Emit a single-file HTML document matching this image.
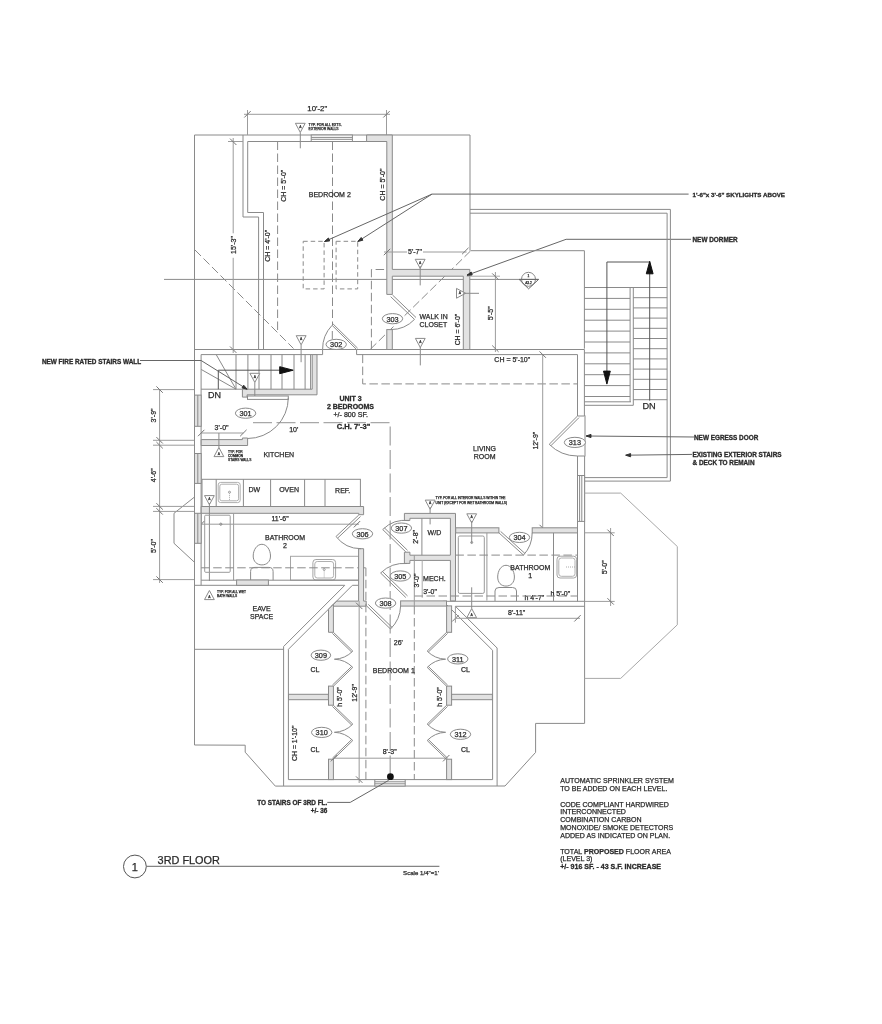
<!DOCTYPE html>
<html><head><meta charset="utf-8"><style>
html,body{margin:0;padding:0;background:#fff;}
svg{display:block;will-change:transform;filter:blur(0.35px);}
text{font-family:"Liberation Sans",sans-serif;stroke:#2a2a2a;stroke-width:0.25px;}
text.b{stroke-width:0.3px;}
</style></head><body>
<svg width="882" height="1024" viewBox="0 0 882 1024">
<rect width="882" height="1024" fill="#fff"/>
<g fill="none" stroke="#8a8a8a" stroke-width="1.0">
<line x1="194.5" y1="135" x2="470" y2="135"/>
<line x1="194.5" y1="135" x2="194.5" y2="745"/>
<line x1="470" y1="135" x2="470" y2="250.7"/>
<polyline points="194.5,745 245.2,745.2 245.2,752.2 275.3,786.1 505,786 535.6,752.4 535.6,723.4 584.6,723.4 584.6,481"/>
<line x1="164" y1="279.4" x2="538.6" y2="279.4"/>
<line x1="195" y1="250" x2="293.5" y2="348.5" stroke-dasharray="8.5,3.5"/>
<line x1="370.3" y1="349.3" x2="471" y2="250.5" stroke-dasharray="8.5,3.5"/>
<line x1="244" y1="114.3" x2="390" y2="114.3" stroke="#9c9c9c"/>
<line x1="247.5" y1="110" x2="247.5" y2="135" stroke="#9c9c9c"/>
<line x1="386.5" y1="110" x2="386.5" y2="135" stroke="#9c9c9c"/>
<line x1="244.3" y1="117.5" x2="250.7" y2="111.1" stroke="#777"/>
<line x1="383.3" y1="117.5" x2="389.7" y2="111.1" stroke="#777"/>
<text x="317.3" y="108.8" font-size="7.8" text-anchor="middle" dominant-baseline="central" fill="#2a2a2a">10'-2"</text>
<polyline points="243,135 243,217 258.6,217 258.6,349.5"/>
<polyline points="247.7,141.5 247.7,212.5 263.5,212.5 263.5,349.5"/>
<line x1="247.7" y1="141.5" x2="387" y2="141.5"/>
<rect x="311.2" y="135" width="41.2" height="6.5" fill="#fff"/>
<line x1="311.2" y1="137.4" x2="352.4" y2="137.4"/>
<line x1="311.2" y1="139.3" x2="352.4" y2="139.3"/>
<polygon points="366.6,135 392.3,135 392.3,269.4 469.8,269.4 469.8,349.5 463.3,349.5 463.3,276.2 392.3,276.2 392.3,294.4 386.8,294.4 386.8,141.5 366.6,141.5" fill="#e2e2e2"/>
<rect x="386.8" y="329.6" width="5.5" height="19.9" fill="#e2e2e2"/>
<polygon points="295.4,123.3 305.2,123.3 300.3,132.4" fill="#fff"/>
<text x="300.3" y="126.6" font-size="3.4" text-anchor="middle" dominant-baseline="central" fill="#2a2a2a">A</text>
<line x1="300.3" y1="132.4" x2="300.3" y2="148.3"/>
<text x="308.6" y="124.6" font-size="3.45" text-anchor="start" dominant-baseline="central" fill="#2a2a2a">TYP. FOR ALL EXTS.</text>
<text x="308.6" y="129" font-size="3.45" text-anchor="start" dominant-baseline="central" fill="#2a2a2a">EXTERIOR WALLS</text>
<line x1="277.6" y1="141.5" x2="277.6" y2="331.5" stroke-dasharray="8.5,3.5"/>
<line x1="332.5" y1="141.5" x2="332.5" y2="325" stroke-dasharray="8.5,3.5"/>
<text x="283.3" y="185.7" font-size="7.0" text-anchor="middle" dominant-baseline="central" transform="rotate(-90 283.3 185.7)" fill="#2a2a2a">CH = 5'-0"</text>
<text x="329.8" y="194.8" font-size="7.0" text-anchor="middle" dominant-baseline="central" fill="#2a2a2a">BEDROOM 2</text>
<text x="382.4" y="184.6" font-size="7.0" text-anchor="middle" dominant-baseline="central" transform="rotate(-90 382.4 184.6)" fill="#2a2a2a">CH = 5'-0"</text>
<text x="267.4" y="245.8" font-size="7.0" text-anchor="middle" dominant-baseline="central" transform="rotate(-90 267.4 245.8)" fill="#2a2a2a">CH = 4'-0"</text>
<rect x="303.2" y="241.3" width="20.9" height="47.6" stroke-dasharray="4.5,3"/>
<rect x="336.1" y="241.3" width="21.6" height="47.6" stroke-dasharray="4.5,3"/>
<line x1="432" y1="194.1" x2="688.6" y2="194.1" stroke="#666"/>
<line x1="432" y1="194.1" x2="324.5" y2="241.5" stroke="#666"/>
<line x1="432" y1="194.1" x2="357.8" y2="241.5" stroke="#666"/>
<polygon points="324.5,241.5 328.4,238 329.7,240.9" stroke="#333" fill="#333"/>
<polygon points="357.8,241.5 361.2,237.5 362.9,240.2" stroke="#333" fill="#333"/>
<line x1="233.2" y1="138" x2="233.2" y2="233.3" stroke="#9c9c9c"/>
<line x1="233.2" y1="257.8" x2="233.2" y2="353" stroke="#9c9c9c"/>
<line x1="228" y1="141.5" x2="243" y2="141.5" stroke="#9c9c9c"/>
<line x1="230" y1="138.6" x2="236.4" y2="145" stroke="#777"/>
<line x1="230" y1="346.5" x2="236.4" y2="352.9" stroke="#777"/>
<text x="233.2" y="245" font-size="7.0" text-anchor="middle" dominant-baseline="central" transform="rotate(-90 233.2 245)" fill="#2a2a2a">15'-3"</text>
<polyline points="390.7,296.7 414.5,319.4"/>
<polyline points="392.5,295 416,317.5"/>
<path d="M414.5,319.4 A32.9,32.9 0 0 1 390.7,329.6"/>
<polyline points="371.4,349.3 371.4,269.5 386.8,269.5" stroke-dasharray="8.5,3.5"/>
<ellipse cx="392.5" cy="318.7" rx="10.2" ry="5.1" fill="#fff"/>
<text x="392.5" y="319" font-size="7.3" text-anchor="middle" dominant-baseline="central" fill="#2a2a2a">303</text>
<text x="419.6" y="316.6" font-size="6.9" text-anchor="start" dominant-baseline="central" fill="#2a2a2a">WALK IN</text>
<text x="419.6" y="324.4" font-size="6.9" text-anchor="start" dominant-baseline="central" fill="#2a2a2a">CLOSET</text>
<text x="457.6" y="329.6" font-size="6.9" text-anchor="middle" dominant-baseline="central" transform="rotate(-90 457.6 329.6)" fill="#2a2a2a">CH = 6'-0"</text>
<polygon points="415.2,259.3 425.1,259.3 420.2,268.4" fill="#fff"/>
<text x="420.2" y="262.6" font-size="3.4" text-anchor="middle" dominant-baseline="central" fill="#2a2a2a">A</text>
<line x1="420.2" y1="266" x2="420.2" y2="285.4"/>
<polygon points="456.5,288.4 465.6,293.3 456.5,298.2" fill="#fff"/>
<text x="459.8" y="293.3" font-size="3.4" text-anchor="middle" dominant-baseline="central" fill="#2a2a2a">A</text>
<line x1="463" y1="293.3" x2="479" y2="293.3"/>
<polygon points="415.4,338.4 425.2,338.4 420.3,347.5" fill="#fff"/>
<text x="420.3" y="341.7" font-size="3.4" text-anchor="middle" dominant-baseline="central" fill="#2a2a2a">A</text>
<line x1="420.3" y1="347" x2="420.3" y2="365.4"/>
<line x1="384" y1="252" x2="407" y2="252" stroke="#9c9c9c"/>
<line x1="423" y1="252" x2="466.6" y2="252" stroke="#9c9c9c"/>
<line x1="383.8" y1="255.2" x2="390.2" y2="248.8" stroke="#777"/>
<line x1="462.1" y1="254.2" x2="468.5" y2="247.8" stroke="#777"/>
<text x="415" y="251.5" font-size="7.0" text-anchor="middle" dominant-baseline="central" fill="#2a2a2a">5'-7"</text>
<line x1="495.4" y1="272" x2="495.4" y2="352" stroke="#9c9c9c"/>
<line x1="466.6" y1="276.2" x2="500" y2="276.2" stroke="#aaa"/>
<line x1="492.2" y1="273.4" x2="498.6" y2="279.8" stroke="#777"/>
<line x1="492.2" y1="345.5" x2="498.6" y2="351.9" stroke="#777"/>
<text x="490.3" y="313.3" font-size="7.0" text-anchor="middle" dominant-baseline="central" transform="rotate(-90 490.3 313.3)" fill="#2a2a2a">5'-5"</text>
<polyline points="691,239.3 566.1,239.3 467,275.2" stroke="#666"/>
<polygon points="467,275.2 471.2,272 472.2,275" stroke="#333" fill="#333"/>
<polyline points="471,250.7 584.4,250.7 584.4,348.7"/>
<polyline points="470,209.4 670.4,209.4 670.4,481.1 584.8,481.1"/>
<polyline points="470,213.2 667.1,213.2 667.1,477.6 584.8,477.6"/>
<circle cx="528.5" cy="279.3" r="7"/>
<polygon points="519.1,279.4 538.6,279.4 528.6,288.8" stroke="#666"/>
<text x="528.5" y="276.3" font-size="3.2" text-anchor="middle" dominant-baseline="central" fill="#2a2a2a">1</text>
<text x="528.5" y="282.6" font-size="3.2" text-anchor="middle" dominant-baseline="central" fill="#2a2a2a">A3.2</text>
<line x1="584.4" y1="298.4" x2="630.1" y2="298.4"/>
<line x1="584.4" y1="309.3" x2="630.1" y2="309.3"/>
<line x1="584.4" y1="320.2" x2="630.1" y2="320.2"/>
<line x1="584.4" y1="331.1" x2="630.1" y2="331.1"/>
<line x1="584.4" y1="342" x2="630.1" y2="342"/>
<line x1="584.4" y1="352.9" x2="630.1" y2="352.9"/>
<line x1="584.4" y1="363.8" x2="630.1" y2="363.8"/>
<line x1="584.4" y1="374.7" x2="630.1" y2="374.7"/>
<line x1="584.4" y1="385.6" x2="630.1" y2="385.6"/>
<line x1="584.4" y1="396.5" x2="630.1" y2="396.5"/>
<line x1="584.4" y1="287.5" x2="667.1" y2="287.5"/>
<line x1="584.4" y1="401.8" x2="631" y2="401.8"/>
<line x1="584.4" y1="405.3" x2="633.3" y2="405.3"/>
<line x1="630.1" y1="287.5" x2="630.1" y2="401.8"/>
<line x1="633.3" y1="287.5" x2="633.3" y2="405.3"/>
<line x1="633.3" y1="297.7" x2="667.1" y2="297.7"/>
<line x1="633.3" y1="307.9" x2="667.1" y2="307.9"/>
<line x1="633.3" y1="318.1" x2="667.1" y2="318.1"/>
<line x1="633.3" y1="328.3" x2="667.1" y2="328.3"/>
<line x1="633.3" y1="338.5" x2="667.1" y2="338.5"/>
<line x1="633.3" y1="348.7" x2="667.1" y2="348.7"/>
<line x1="633.3" y1="358.9" x2="667.1" y2="358.9"/>
<line x1="633.3" y1="369.1" x2="667.1" y2="369.1"/>
<line x1="633.3" y1="379.3" x2="667.1" y2="379.3"/>
<line x1="633.3" y1="389.5" x2="667.1" y2="389.5"/>
<line x1="633.3" y1="399.7" x2="667.1" y2="399.7"/>
<polyline points="649.7,400.6 649.7,262 606.9,262 606.9,380" stroke="#555"/>
<polygon points="606.9,384.1 603.5,371.1 610.3,371.1" stroke="#111" fill="#111"/>
<polygon points="649.7,261.3 653.1,273.8 646.3,273.8" stroke="#111" fill="#111"/>
<text x="649.1" y="406" font-size="9.2" text-anchor="middle" dominant-baseline="central" fill="#2a2a2a">DN</text>
<text x="692.5" y="194.8" font-size="6.2" text-anchor="start" dominant-baseline="central" font-weight="bold" class="b" fill="#2a2a2a">1'-6"x 3'-6" SKYLIGHTS ABOVE</text>
<text x="692.5" y="239.7" font-size="6.4" text-anchor="start" dominant-baseline="central" font-weight="bold" class="b" fill="#2a2a2a">NEW DORMER</text>
<text x="694" y="437.2" font-size="6.4" text-anchor="start" dominant-baseline="central" font-weight="bold" class="b" fill="#2a2a2a">NEW EGRESS DOOR</text>
<text x="692.5" y="454.6" font-size="6.4" text-anchor="start" dominant-baseline="central" font-weight="bold" class="b" fill="#2a2a2a">EXISTING EXTERIOR STAIRS</text>
<text x="692.5" y="462.3" font-size="6.4" text-anchor="start" dominant-baseline="central" font-weight="bold" class="b" fill="#2a2a2a">&amp; DECK TO REMAIN</text>
<line x1="694" y1="437" x2="586.5" y2="436" stroke="#666"/>
<polygon points="586,436 591,434.4 591,437.6" stroke="#333" fill="#333"/>
<line x1="692" y1="454.4" x2="626" y2="455.2" stroke="#666"/>
<polygon points="625.6,455.2 630.6,453.6 630.6,456.8" stroke="#333" fill="#333"/>
<line x1="194.5" y1="349.5" x2="322.6" y2="349.5"/>
<line x1="201.1" y1="354.6" x2="322.6" y2="354.6"/>
<line x1="356.6" y1="349.5" x2="584.4" y2="349.5"/>
<line x1="356.6" y1="354.6" x2="577.5" y2="354.6"/>
<line x1="577.5" y1="354.6" x2="577.5" y2="416"/>
<line x1="584.4" y1="349.5" x2="584.4" y2="416"/>
<line x1="577.5" y1="456" x2="577.5" y2="601.4"/>
<line x1="584.6" y1="456" x2="584.6" y2="481"/>
<line x1="577.5" y1="416" x2="584.4" y2="416"/>
<line x1="577.5" y1="456" x2="584.6" y2="456"/>
<rect x="577.5" y="475.5" width="7.1" height="45.9" fill="#fff"/>
<line x1="579.6" y1="475.5" x2="579.6" y2="521.4"/>
<line x1="581.8" y1="475.5" x2="581.8" y2="521.4"/>
<polyline points="577.5,416 549.2,444.3"/>
<polyline points="579,417.6 550.8,445.8"/>
<path d="M549.2,444.3 A40,40 0 0 0 577.5,456"/>
<line x1="585" y1="415.4" x2="585" y2="456.4"/>
<ellipse cx="574.9" cy="442.4" rx="10.6" ry="5.1" fill="#fff"/>
<text x="574.9" y="442.7" font-size="7.3" text-anchor="middle" dominant-baseline="central" fill="#2a2a2a">313</text>
<polyline points="362.7,354.6 362.7,383.9 577.5,383.9" stroke-dasharray="8.5,3.5"/>
<line x1="542.7" y1="354.5" x2="542.7" y2="531" stroke="#9c9c9c"/>
<line x1="539.5" y1="351.4" x2="545.9" y2="357.8" stroke="#777"/>
<line x1="539.5" y1="524.8" x2="545.9" y2="531.2" stroke="#777"/>
<text x="535.6" y="440.6" font-size="7.0" text-anchor="middle" dominant-baseline="central" transform="rotate(-90 535.6 440.6)" fill="#2a2a2a">12'-9"</text>
<text x="512.3" y="359.5" font-size="7.0" text-anchor="middle" dominant-baseline="central" fill="#2a2a2a">CH = 5'-10"</text>
<text x="484.6" y="448.6" font-size="7.0" text-anchor="middle" dominant-baseline="central" fill="#2a2a2a">LIVING</text>
<text x="484.6" y="456.4" font-size="7.0" text-anchor="middle" dominant-baseline="central" fill="#2a2a2a">ROOM</text>
<polyline points="253,422.6 390.2,422.6 390.2,780" stroke-dasharray="19,4.5" stroke="#a8a8a8" stroke-width="1.3"/>
<text x="350.5" y="398.6" font-size="7.0" text-anchor="middle" dominant-baseline="central" font-weight="bold" class="b" fill="#2a2a2a">UNIT 3</text>
<text x="350.5" y="406.6" font-size="7.0" text-anchor="middle" dominant-baseline="central" font-weight="bold" class="b" fill="#2a2a2a">2 BEDROOMS</text>
<text x="350.7" y="414.8" font-size="7.1" text-anchor="middle" dominant-baseline="central" fill="#2a2a2a">+/- 800 SF.</text>
<text x="353.5" y="426.6" font-size="7.6" text-anchor="middle" dominant-baseline="central" font-weight="bold" class="b" fill="#2a2a2a">C.H. 7'-3"</text>
<polygon points="425.2,500.1 435.1,500.1 430.1,509.2" fill="#fff"/>
<text x="430.1" y="503.4" font-size="3.4" text-anchor="middle" dominant-baseline="central" fill="#2a2a2a">A</text>
<line x1="430.1" y1="507" x2="430.1" y2="524.4"/>
<text x="435.5" y="497.9" font-size="3.3" text-anchor="start" dominant-baseline="central" fill="#2a2a2a">TYP. FOR ALL INTERIOR WALLS WITHIN THE</text>
<text x="435.5" y="502.6" font-size="3.3" text-anchor="start" dominant-baseline="central" fill="#2a2a2a">UNIT (EXCEPT FOR WET BATHROOM WALLS)</text>
<line x1="201.1" y1="354.6" x2="201.1" y2="585.3"/>
<polygon points="312.2,354.6 317,354.6 317,394.8 247.1,394.8 247.1,397.1 242.4,397.1 242.4,389.2 312.2,389.2" fill="#e2e2e2"/>
<line x1="310.6" y1="354.6" x2="310.6" y2="389.2"/>
<line x1="201.1" y1="389.2" x2="242.4" y2="389.2"/>
<line x1="236" y1="354.6" x2="236" y2="389.2"/>
<line x1="247.9" y1="354.6" x2="247.9" y2="389.2"/>
<line x1="259" y1="354.6" x2="259" y2="389.2"/>
<line x1="271" y1="354.6" x2="271" y2="389.2"/>
<line x1="282" y1="354.6" x2="282" y2="389.2"/>
<line x1="294" y1="354.6" x2="294" y2="389.2"/>
<line x1="305.1" y1="354.6" x2="305.1" y2="389.2"/>
<line x1="216.2" y1="354.6" x2="236" y2="389.2"/>
<line x1="201.1" y1="369.4" x2="236" y2="389.2"/>
<polyline points="140,360.5 201.1,360.5 247.1,389.2" stroke="#666"/>
<polygon points="247.1,389.2 242,387.9 243.7,385.2" stroke="#333" fill="#333"/>
<polyline points="218.3,389.2 218.3,370.2 285,370.2" stroke="#555"/>
<polygon points="293.2,370.2 279.7,373.7 279.7,366.7" stroke="#111" fill="#111"/>
<polygon points="296.2,335.7 306.1,335.7 301.1,344.8" fill="#fff"/>
<text x="301.1" y="339" font-size="3.4" text-anchor="middle" dominant-baseline="central" fill="#2a2a2a">A</text>
<line x1="301.1" y1="344.8" x2="301.1" y2="362.2"/>
<polygon points="249.9,373.3 259.8,373.3 254.8,382.4" fill="#fff"/>
<text x="254.8" y="376.6" font-size="3.4" text-anchor="middle" dominant-baseline="central" fill="#2a2a2a">A</text>
<line x1="254.8" y1="382.4" x2="254.8" y2="399.5"/>
<text x="214.6" y="394.8" font-size="9" text-anchor="middle" dominant-baseline="central" fill="#2a2a2a">DN</text>
<text x="91.5" y="361.1" font-size="6.4" text-anchor="middle" dominant-baseline="central" font-weight="bold" class="b" fill="#2a2a2a">NEW FIRE RATED STAIRS WALL</text>
<polyline points="356.6,349.5 332.1,325.3"/>
<polyline points="357.6,348.2 333.1,324"/>
<path d="M332.1,325.3 A34.2,34.2 0 0 0 322.6,349.5"/>
<line x1="322.6" y1="349.5" x2="356.6" y2="349.5"/>
<line x1="322.6" y1="349.5" x2="322.6" y2="354.6"/>
<line x1="356.6" y1="349.5" x2="356.6" y2="354.6"/>
<line x1="332.3" y1="331" x2="332.3" y2="339.3"/>
<ellipse cx="336.2" cy="344.4" rx="10.2" ry="5.1" fill="#fff"/>
<text x="336.2" y="344.7" font-size="7.3" text-anchor="middle" dominant-baseline="central" fill="#2a2a2a">302</text>
<rect x="247.5" y="396" width="40.8" height="3.4" fill="#fff"/>
<path d="M288.3,397.7 A40.8,40.8 0 0 1 247.5,438.5"/>
<ellipse cx="245.6" cy="413.2" rx="10.2" ry="5.1" fill="#fff"/>
<text x="245.6" y="413.5" font-size="7.3" text-anchor="middle" dominant-baseline="central" fill="#2a2a2a">301</text>
<polygon points="201.2,439.6 242.4,439.6 242.4,438 247.6,438 247.6,445.5 201.2,445.5" fill="#e2e2e2"/>
<line x1="201.2" y1="433" x2="243.4" y2="433" stroke="#9c9c9c"/>
<line x1="198" y1="436.2" x2="204.4" y2="429.8" stroke="#777"/>
<line x1="240.2" y1="436.2" x2="246.6" y2="429.8" stroke="#777"/>
<text x="221.6" y="427.6" font-size="7.0" text-anchor="middle" dominant-baseline="central" fill="#2a2a2a">3'-0"</text>
<text x="293.7" y="429.2" font-size="7.0" text-anchor="middle" dominant-baseline="central" fill="#2a2a2a">10'</text>
<polygon points="218.9,447.5 223.8,456.6 214,456.6" fill="#fff"/>
<text x="218.9" y="453.5" font-size="3.4" text-anchor="middle" dominant-baseline="central" fill="#2a2a2a">A</text>
<line x1="218.9" y1="433" x2="218.9" y2="447.5"/>
<text x="228" y="451.7" font-size="3.25" text-anchor="start" dominant-baseline="central" fill="#2a2a2a">TYP. FOR</text>
<text x="228" y="455.6" font-size="3.25" text-anchor="start" dominant-baseline="central" fill="#2a2a2a">COMMON</text>
<text x="228" y="459.7" font-size="3.25" text-anchor="start" dominant-baseline="central" fill="#2a2a2a">STAIRS WALLS</text>
<text x="278.8" y="454" font-size="7.0" text-anchor="middle" dominant-baseline="central" fill="#2a2a2a">KITCHEN</text>
<rect x="202" y="479.3" width="158.4" height="27.2"/>
<line x1="216.2" y1="479.3" x2="216.2" y2="506.5"/>
<line x1="243.4" y1="479.3" x2="243.4" y2="506.5"/>
<line x1="270.6" y1="479.3" x2="270.6" y2="506.5"/>
<line x1="304.6" y1="479.3" x2="304.6" y2="506.5"/>
<line x1="325" y1="479.3" x2="325" y2="506.5"/>
<rect x="218.2" y="482.4" width="22" height="20.2" rx="2.5" stroke="#b0b0b0"/>
<rect x="219.8" y="484.2" width="18.8" height="16.6" rx="2" stroke="#b0b0b0"/>
<circle cx="229.5" cy="492.2" r="1" stroke="#999"/>
<line x1="229.5" y1="493.2" x2="229.5" y2="500" stroke-dasharray="1,1" stroke="#aaa"/>
<text x="254.3" y="489.9" font-size="7" text-anchor="middle" dominant-baseline="central" fill="#2a2a2a">DW</text>
<text x="289.1" y="489.9" font-size="7" text-anchor="middle" dominant-baseline="central" fill="#2a2a2a">OVEN</text>
<text x="342.7" y="490.6" font-size="7" text-anchor="middle" dominant-baseline="central" fill="#2a2a2a">REF.</text>
<polygon points="201.2,506.5 363.6,506.5 363.6,514.7 358.8,514.7 358.8,513.3 201.2,513.3" fill="#e2e2e2"/>
<polygon points="204.5,495.6 214.3,495.6 209.4,504.7" fill="#fff"/>
<text x="209.4" y="498.9" font-size="3.4" text-anchor="middle" dominant-baseline="central" fill="#2a2a2a">A</text>
<line x1="209.4" y1="503" x2="209.4" y2="581"/>
<line x1="198.5" y1="524.2" x2="359" y2="524.2" stroke="#9c9c9c"/>
<line x1="198" y1="527.4" x2="204.4" y2="521" stroke="#777"/>
<line x1="353.8" y1="527.4" x2="360.2" y2="521" stroke="#777"/>
<text x="280.1" y="518.2" font-size="7.0" text-anchor="middle" dominant-baseline="central" fill="#2a2a2a">11'-6"</text>
<rect x="204.7" y="515.2" width="25.5" height="57.1" rx="1" stroke="#9a9a9a"/>
<line x1="233.6" y1="513.3" x2="233.6" y2="580.2" stroke="#9a9a9a"/>
<circle cx="220.8" cy="524.2" r="1.1"/>
<text x="285" y="537.3" font-size="7.0" text-anchor="middle" dominant-baseline="central" fill="#2a2a2a">BATHROOM</text>
<text x="285" y="545.4" font-size="7.0" text-anchor="middle" dominant-baseline="central" fill="#2a2a2a">2</text>
<path d="M261.9,544.3 C266.9,544.3 270.5,550 270.5,556 C270.5,561.5 266.9,564.9 261.9,564.9 C256.9,564.9 253.2,561.5 253.2,556 C253.2,550 256.9,544.3 261.9,544.3 Z" fill="#fff"/>
<path d="M250.6,580.2 L250.6,571.5 Q250.6,567.4 255,567.4 L268.7,567.4 Q273.1,567.4 273.1,571.5 L273.1,580.2" stroke="#8a8a8a"/>
<rect x="290.5" y="556.3" width="68.5" height="23.9" stroke="#a5a5a5"/>
<rect x="312.9" y="559.5" width="22.7" height="20.5" rx="3" stroke="#a5a5a5"/>
<rect x="314.8" y="561.5" width="18.8" height="16.5" rx="2.5" stroke="#b0b0b0"/>
<circle cx="324.2" cy="569.5" r="1" stroke="#999"/>
<line x1="324.2" y1="570.5" x2="324.2" y2="578" stroke-dasharray="1,1" stroke="#aaa"/>
<line x1="201.2" y1="567.8" x2="365.9" y2="567.8" stroke-dasharray="8.5,3.5"/>
<line x1="201.2" y1="580.2" x2="358.6" y2="580.2"/>
<line x1="194.5" y1="585.3" x2="344.8" y2="585.3"/>
<line x1="352.4" y1="585.3" x2="358.6" y2="585.3"/>
<rect x="236.6" y="580" width="31.8" height="5.3" fill="#e2e2e2"/>
<polygon points="358.6,548.7 363.6,548.7 363.6,601.1 366.2,601.1 366.2,606.2 331.5,606.2 336.6,601.1 358.6,601.1" fill="#e2e2e2"/>
<polyline points="358.8,515 336,536.5"/>
<polyline points="360.5,516.5 337.7,538"/>
<path d="M336,536.5 A31.5,31.5 0 0 0 361,548.7"/>
<ellipse cx="362.5" cy="533.8" rx="10.2" ry="5.1" fill="#fff"/>
<text x="362.5" y="534.1" font-size="7.3" text-anchor="middle" dominant-baseline="central" fill="#2a2a2a">306</text>
<polyline points="194.5,497 174,513.3 174,543.3 194.5,562.3"/>
<rect x="194.5" y="395.1" width="6.7" height="31.2" fill="#e2e2e2"/>
<line x1="197.8" y1="395.1" x2="197.8" y2="426.3"/>
<rect x="194.5" y="453.5" width="6.7" height="29.9" fill="#e2e2e2"/>
<line x1="197.8" y1="453.5" x2="197.8" y2="483.4"/>
<rect x="194.5" y="513.3" width="6.7" height="30" fill="#e2e2e2"/>
<line x1="197.8" y1="513.3" x2="197.8" y2="543.3"/>
<line x1="159.6" y1="389.6" x2="159.6" y2="583" stroke="#9c9c9c"/>
<line x1="153" y1="389.6" x2="194" y2="389.6" stroke="#9c9c9c"/>
<line x1="156.4" y1="386.4" x2="162.8" y2="392.8" stroke="#777"/>
<line x1="153" y1="440.3" x2="194" y2="440.3" stroke="#9c9c9c"/>
<line x1="156.4" y1="437.1" x2="162.8" y2="443.5" stroke="#777"/>
<line x1="153" y1="445.2" x2="194" y2="445.2" stroke="#9c9c9c"/>
<line x1="156.4" y1="442" x2="162.8" y2="448.4" stroke="#777"/>
<line x1="153" y1="506.4" x2="194" y2="506.4" stroke="#9c9c9c"/>
<line x1="156.4" y1="503.2" x2="162.8" y2="509.6" stroke="#777"/>
<line x1="153" y1="511.4" x2="194" y2="511.4" stroke="#9c9c9c"/>
<line x1="156.4" y1="508.2" x2="162.8" y2="514.6" stroke="#777"/>
<line x1="153" y1="579.6" x2="194" y2="579.6" stroke="#9c9c9c"/>
<line x1="156.4" y1="576.4" x2="162.8" y2="582.8" stroke="#777"/>
<text x="153.6" y="415.4" font-size="7.0" text-anchor="middle" dominant-baseline="central" transform="rotate(-90 153.6 415.4)" fill="#2a2a2a">3'-9"</text>
<text x="153.6" y="475.2" font-size="7.0" text-anchor="middle" dominant-baseline="central" transform="rotate(-90 153.6 475.2)" fill="#2a2a2a">4'-6"</text>
<text x="153.6" y="546" font-size="7.0" text-anchor="middle" dominant-baseline="central" transform="rotate(-90 153.6 546)" fill="#2a2a2a">5'-0"</text>
<line x1="365.9" y1="567.8" x2="365.9" y2="780" stroke-dasharray="8.5,3.5"/>
<text x="261.6" y="608.6" font-size="7.0" text-anchor="middle" dominant-baseline="central" fill="#2a2a2a">EAVE</text>
<text x="261.6" y="616.2" font-size="7.0" text-anchor="middle" dominant-baseline="central" fill="#2a2a2a">SPACE</text>
<polygon points="209.4,590.5 214.3,599.6 204.5,599.6" fill="#fff"/>
<text x="209.4" y="596.5" font-size="3.4" text-anchor="middle" dominant-baseline="central" fill="#2a2a2a">A</text>
<text x="217" y="592.2" font-size="3.25" text-anchor="start" dominant-baseline="central" fill="#2a2a2a">TYP. FOR ALL WET</text>
<text x="217" y="596.4" font-size="3.25" text-anchor="start" dominant-baseline="central" fill="#2a2a2a">BATH WALLS</text>
<line x1="194.5" y1="649.3" x2="283.6" y2="649.3"/>
<polyline points="344.8,585.3 283.6,646.5 283.6,786"/>
<polyline points="352.4,585.3 288.4,649.3 288.4,779.6 492.6,779.6 492.6,650.3 443.2,601.3"/>
<polyline points="455.4,606.3 497.1,648 497.1,786"/>
<line x1="443.2" y1="601.3" x2="584.6" y2="601.3"/>
<line x1="455.4" y1="606.3" x2="584.6" y2="606.3"/>
<rect x="400.6" y="600.9" width="45.9" height="5.2" fill="#e2e2e2"/>
<polygon points="328.5,609.2 333.4,604.3 333.4,632.3 328.5,632.3" fill="#e2e2e2"/>
<rect x="446.6" y="605.9" width="5" height="26.4" fill="#e2e2e2"/>
<rect x="328.5" y="686.1" width="4.9" height="19.1" fill="#e2e2e2"/>
<rect x="328.5" y="759.2" width="4.9" height="20.4" fill="#e2e2e2"/>
<rect x="446.6" y="686.1" width="5" height="19.1" fill="#e2e2e2"/>
<rect x="446.6" y="759.2" width="5" height="20.4" fill="#e2e2e2"/>
<rect x="288.5" y="694.3" width="39.9" height="5.4" fill="#e2e2e2"/>
<rect x="451.6" y="694.3" width="40.8" height="5.4" fill="#e2e2e2"/>
<polyline points="333.4,632.3 352.8,651.1"/>
<polyline points="332.4,633.4 351.8,652.2"/>
<polyline points="333.4,686.2 352.8,667.4"/>
<polyline points="332.4,685.1 351.8,666.3"/>
<path d="M352.8,651.1 A27,27 0 0 1 334.4,659.2"/>
<path d="M352.8,667.4 A27,27 0 0 0 334.4,659.2"/>
<polyline points="333.4,705.3 352.8,724.1"/>
<polyline points="332.4,706.4 351.8,725.2"/>
<polyline points="333.4,759.3 352.8,740.5"/>
<polyline points="332.4,758.2 351.8,739.4"/>
<path d="M352.8,724.1 A27,27 0 0 1 334.4,732.3"/>
<path d="M352.8,740.5 A27,27 0 0 0 334.4,732.3"/>
<polyline points="446.6,632.3 427.2,651.1"/>
<polyline points="447.6,633.4 428.2,652.2"/>
<polyline points="446.6,686.2 427.2,667.4"/>
<polyline points="447.6,685.1 428.2,666.3"/>
<path d="M427.2,651.1 A27,27 0 0 0 445.6,659.2"/>
<path d="M427.2,667.4 A27,27 0 0 1 445.6,659.2"/>
<polyline points="446.6,705.3 427.2,724.1"/>
<polyline points="447.6,706.4 428.2,725.2"/>
<polyline points="446.6,759.3 427.2,740.5"/>
<polyline points="447.6,758.2 428.2,739.4"/>
<path d="M427.2,724.1 A27,27 0 0 0 445.6,732.3"/>
<path d="M427.2,740.5 A27,27 0 0 1 445.6,732.3"/>
<ellipse cx="320.9" cy="655.2" rx="9.8" ry="5.1" fill="#fff"/>
<text x="320.9" y="655.5" font-size="7.3" text-anchor="middle" dominant-baseline="central" fill="#2a2a2a">309</text>
<text x="314.9" y="669.3" font-size="7.0" text-anchor="middle" dominant-baseline="central" fill="#2a2a2a">CL</text>
<ellipse cx="321.7" cy="732.4" rx="10.2" ry="5.1" fill="#fff"/>
<text x="321.7" y="732.7" font-size="7.3" text-anchor="middle" dominant-baseline="central" fill="#2a2a2a">310</text>
<text x="314.9" y="749.3" font-size="7.0" text-anchor="middle" dominant-baseline="central" fill="#2a2a2a">CL</text>
<ellipse cx="457.8" cy="658.9" rx="10.2" ry="5.1" fill="#fff"/>
<text x="457.8" y="659.2" font-size="7.3" text-anchor="middle" dominant-baseline="central" fill="#2a2a2a">311</text>
<text x="465.4" y="669.3" font-size="7.0" text-anchor="middle" dominant-baseline="central" fill="#2a2a2a">CL</text>
<ellipse cx="460.5" cy="734.3" rx="10.2" ry="5.1" fill="#fff"/>
<text x="460.5" y="734.6" font-size="7.3" text-anchor="middle" dominant-baseline="central" fill="#2a2a2a">312</text>
<text x="465.4" y="749.3" font-size="7.0" text-anchor="middle" dominant-baseline="central" fill="#2a2a2a">CL</text>
<text x="339.4" y="697" font-size="6.9" text-anchor="middle" dominant-baseline="central" transform="rotate(-90 339.4 697)" fill="#2a2a2a">h 5'-0"</text>
<text x="439.5" y="697" font-size="6.9" text-anchor="middle" dominant-baseline="central" transform="rotate(-90 439.5 697)" fill="#2a2a2a">h 5'-0"</text>
<text x="354.4" y="692.9" font-size="6.9" text-anchor="middle" dominant-baseline="central" transform="rotate(-90 354.4 692.9)" fill="#2a2a2a">12'-9"</text>
<line x1="359.2" y1="600.9" x2="359.2" y2="783" stroke="#b0b0b0" stroke-width="1.3"/>
<line x1="356" y1="602.7" x2="362.4" y2="609.1" stroke="#777"/>
<line x1="356" y1="776.4" x2="362.4" y2="782.8" stroke="#777"/>
<line x1="414.3" y1="606" x2="414.3" y2="780" stroke-dasharray="8.5,3.5"/>
<text x="398.4" y="642.6" font-size="7.0" text-anchor="middle" dominant-baseline="central" fill="#2a2a2a">26'</text>
<text x="393.8" y="670.6" font-size="7.0" text-anchor="middle" dominant-baseline="central" fill="#2a2a2a">BEDROOM 1</text>
<text x="389.7" y="751.4" font-size="7.0" text-anchor="middle" dominant-baseline="central" fill="#2a2a2a">8'-3"</text>
<line x1="333.6" y1="758.2" x2="446.6" y2="758.2" stroke="#9c9c9c"/>
<line x1="330.8" y1="761.4" x2="337.2" y2="755" stroke="#777"/>
<line x1="443" y1="761.4" x2="449.4" y2="755" stroke="#777"/>
<polyline points="366.6,605.9 390.5,629"/>
<polyline points="368.3,604.4 392.2,627.5"/>
<path d="M390.5,629 A33.5,33.5 0 0 0 400.6,606"/>
<ellipse cx="385.6" cy="603.1" rx="10.2" ry="5.1" fill="#fff"/>
<text x="385.6" y="603.4" font-size="7.3" text-anchor="middle" dominant-baseline="central" fill="#2a2a2a">308</text>
<rect x="374.8" y="779.6" width="30.4" height="6.4" fill="#fff"/>
<line x1="374.8" y1="781.8" x2="405.2" y2="781.8"/>
<line x1="374.8" y1="783.8" x2="405.2" y2="783.8"/>
<circle cx="390.4" cy="776.7" r="3.4" fill="#111" stroke="none"/>
<polyline points="327.3,802.4 350.2,802.4 388.6,780.4" stroke="#666"/>
<text x="327.3" y="802.6" font-size="6.4" text-anchor="end" dominant-baseline="central" font-weight="bold" class="b" fill="#2a2a2a">TO STAIRS OF 3RD FL.</text>
<text x="327.3" y="810.2" font-size="6.4" text-anchor="end" dominant-baseline="central" font-weight="bold" class="b" fill="#2a2a2a">+/- 36</text>
<text x="294.5" y="743.3" font-size="6.9" text-anchor="middle" dominant-baseline="central" transform="rotate(-90 294.5 743.3)" fill="#2a2a2a">CH = 1'-10"</text>
<polygon points="404.4,513.4 455.5,513.4 455.5,600.9 450.4,600.9 450.4,560.4 409.9,560.4 409.9,563.4 404.4,563.4 404.4,552.2 409.9,552.2 409.9,555.2 450.4,555.2 450.4,518.3 409.9,518.3 409.9,520.4 404.4,520.4" fill="#e2e2e2"/>
<line x1="421.9" y1="518.3" x2="421.9" y2="555.2"/>
<line x1="422.2" y1="560.4" x2="422.2" y2="597.8" stroke="#aaa"/>
<line x1="414.3" y1="555.2" x2="414.3" y2="606" stroke="#999"/>
<polyline points="405.8,551.9 382.7,529.5"/>
<polyline points="407.5,550.3 384.4,527.9"/>
<path d="M382.7,529.5 A32,32 0 0 1 409.2,520.6"/>
<polyline points="405.8,597.5 380.6,573"/>
<polyline points="407.5,595.9 382.3,571.4"/>
<path d="M380.6,573 A34,34 0 0 1 407.1,563.5"/>
<ellipse cx="401.4" cy="528.1" rx="10.2" ry="5.1" fill="#fff"/>
<text x="401.4" y="528.4" font-size="7.3" text-anchor="middle" dominant-baseline="central" fill="#2a2a2a">307</text>
<ellipse cx="400.3" cy="576" rx="10.2" ry="5.1" fill="#fff"/>
<text x="400.3" y="576.3" font-size="7.3" text-anchor="middle" dominant-baseline="central" fill="#2a2a2a">305</text>
<text x="416" y="536.9" font-size="6.9" text-anchor="middle" dominant-baseline="central" transform="rotate(-90 416 536.9)" fill="#2a2a2a">2'-8"</text>
<text x="416" y="580.5" font-size="6.9" text-anchor="middle" dominant-baseline="central" transform="rotate(-90 416 580.5)" fill="#2a2a2a">3'-0"</text>
<text x="434.4" y="532.4" font-size="7.0" text-anchor="middle" dominant-baseline="central" fill="#2a2a2a">W/D</text>
<text x="434.4" y="578.4" font-size="7.0" text-anchor="middle" dominant-baseline="central" fill="#2a2a2a">MECH.</text>
<text x="430" y="591.8" font-size="6.9" text-anchor="middle" dominant-baseline="central" fill="#2a2a2a">3'-0"</text>
<rect x="455.7" y="527.8" width="43.2" height="5.1" fill="#e2e2e2"/>
<rect x="532.2" y="527.8" width="45.3" height="5.1" fill="#e2e2e2"/>
<rect x="458.3" y="536" width="26" height="57.4" rx="1.5" stroke="#9a9a9a"/>
<line x1="486.9" y1="532.9" x2="486.9" y2="600.6" stroke="#9a9a9a"/>
<polygon points="466.8,513.8 476.6,513.8 471.7,522.9" fill="#fff"/>
<text x="471.7" y="517.1" font-size="3.4" text-anchor="middle" dominant-baseline="central" fill="#2a2a2a">A</text>
<line x1="471.7" y1="521" x2="471.7" y2="543"/>
<circle cx="471.7" cy="542.5" r="1"/>
<polygon points="471.7,608.6 476.6,617.7 466.8,617.7" fill="#fff"/>
<text x="471.7" y="614.6" font-size="3.4" text-anchor="middle" dominant-baseline="central" fill="#2a2a2a">A</text>
<line x1="471.7" y1="587.3" x2="471.7" y2="608.6"/>
<polyline points="499,532.9 523.5,555.1"/>
<polyline points="500.6,531.4 525.1,553.6"/>
<path d="M523.5,555.1 A33,33 0 0 0 532.2,532.9"/>
<ellipse cx="519.5" cy="537.4" rx="10.2" ry="5.1" fill="#fff"/>
<text x="519.5" y="537.7" font-size="7.3" text-anchor="middle" dominant-baseline="central" fill="#2a2a2a">304</text>
<line x1="455.4" y1="555.1" x2="577.5" y2="555.1" stroke-dasharray="8.5,3.5"/>
<line x1="553.5" y1="532.9" x2="553.5" y2="601"/>
<rect x="557" y="556.2" width="19.6" height="21.8" rx="3" stroke="#a5a5a5"/>
<rect x="558.8" y="558" width="16.2" height="18.3" rx="2.5" stroke="#b0b0b0"/>
<line x1="566" y1="567" x2="575" y2="567" stroke-dasharray="1,1" stroke="#aaa"/>
<path d="M506,565.3 C511,565.3 514.4,571 514.4,577 C514.4,582.5 511,586.1 506,586.1 C501,586.1 497.7,582.5 497.7,577 C497.7,571 501,565.3 506,565.3 Z" fill="#fff"/>
<path d="M495,601 L495,591 Q495,587.5 499,587.5 L512.5,587.5 Q516.5,587.5 516.5,591 L516.5,601" stroke="#8a8a8a"/>
<text x="530.3" y="567.3" font-size="7.0" text-anchor="middle" dominant-baseline="central" fill="#2a2a2a">BATHROOM</text>
<text x="530.3" y="575.5" font-size="7.0" text-anchor="middle" dominant-baseline="central" fill="#2a2a2a">1</text>
<text x="560.3" y="593.2" font-size="7.0" text-anchor="middle" dominant-baseline="central" fill="#2a2a2a">h 5'-0"</text>
<text x="534.4" y="597.3" font-size="7.0" text-anchor="middle" dominant-baseline="central" fill="#2a2a2a">h 4'-7"</text>
<line x1="414.5" y1="596" x2="577.5" y2="596" stroke-dasharray="8.5,3.5"/>
<line x1="455.4" y1="618.3" x2="580" y2="618.3" stroke="#9c9c9c"/>
<line x1="452.2" y1="621.5" x2="458.6" y2="615.1" stroke="#777"/>
<line x1="574.3" y1="621.5" x2="580.7" y2="615.1" stroke="#777"/>
<line x1="455.4" y1="606" x2="455.4" y2="622.7" stroke="#9c9c9c"/>
<text x="516.7" y="612.2" font-size="7.0" text-anchor="middle" dominant-baseline="central" fill="#2a2a2a">8'-11"</text>
<line x1="610.6" y1="528" x2="610.6" y2="606" stroke="#9c9c9c"/>
<line x1="584.8" y1="532.8" x2="614.7" y2="532.8" stroke="#9c9c9c"/>
<line x1="584.8" y1="601.4" x2="614.7" y2="601.4" stroke="#9c9c9c"/>
<line x1="607.4" y1="529.6" x2="613.8" y2="536" stroke="#777"/>
<line x1="607.4" y1="598.2" x2="613.8" y2="604.6" stroke="#777"/>
<text x="604.5" y="567.3" font-size="7.0" text-anchor="middle" dominant-baseline="central" transform="rotate(-90 604.5 567.3)" fill="#2a2a2a">5'-0"</text>
<polyline points="584.6,493.1 620.7,493.1 677.3,546.5 677.3,624.8 620.7,678.4 584.6,678.4" stroke="#a8a8a8"/>
<text x="560.2" y="780.7" font-size="7.05" text-anchor="start" dominant-baseline="central" fill="#2a2a2a">AUTOMATIC SPRINKLER SYSTEM</text>
<text x="560.2" y="788.4" font-size="7.05" text-anchor="start" dominant-baseline="central" fill="#2a2a2a">TO BE ADDED ON EACH LEVEL.</text>
<text x="560.2" y="804" font-size="7.05" text-anchor="start" dominant-baseline="central" fill="#2a2a2a">CODE COMPLIANT HARDWIRED</text>
<text x="560.2" y="811.8" font-size="7.05" text-anchor="start" dominant-baseline="central" fill="#2a2a2a">INTERCONNECTED</text>
<text x="560.2" y="819.7" font-size="7.05" text-anchor="start" dominant-baseline="central" fill="#2a2a2a">COMBINATION CARBON</text>
<text x="560.2" y="827.8" font-size="7.05" text-anchor="start" dominant-baseline="central" fill="#2a2a2a">MONOXIDE/ SMOKE DETECTORS</text>
<text x="560.2" y="835.5" font-size="7.05" text-anchor="start" dominant-baseline="central" fill="#2a2a2a">ADDED AS INDICATED ON PLAN.</text>
<text x="560.2" y="858.8" font-size="7.05" text-anchor="start" dominant-baseline="central" fill="#2a2a2a">(LEVEL 3)</text>
<text x="560.2" y="866.9" font-size="7.05" text-anchor="start" dominant-baseline="central" font-weight="bold" class="b" fill="#2a2a2a">+/- 916 SF. - 43 S.F. INCREASE</text>
<text x="560.2" y="851.3" font-size="7.05" dominant-baseline="central" fill="#2a2a2a">TOTAL <tspan font-weight="bold">PROPOSED</tspan> FLOOR AREA</text>
<circle cx="134.9" cy="866.5" r="11.4" stroke="#555"/>
<text x="134.9" y="867" font-size="11" text-anchor="middle" dominant-baseline="central" fill="#2a2a2a" font-family=""Liberation Serif",serif">1</text>
<line x1="146.4" y1="866.3" x2="439.4" y2="866.3" stroke="#666"/>
<text x="157.6" y="860.2" font-size="10.9" text-anchor="start" dominant-baseline="central" fill="#2a2a2a">3RD FLOOR</text>
<text x="438.8" y="872.6" font-size="6.1" text-anchor="end" dominant-baseline="central" fill="#2a2a2a">Scale 1/4"=1'</text>
</g>
</svg>
</body></html>
